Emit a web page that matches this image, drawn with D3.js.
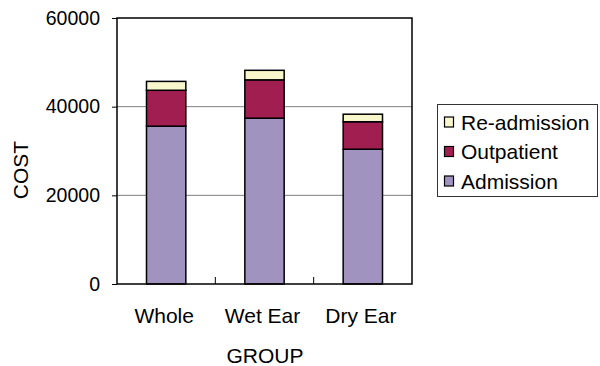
<!DOCTYPE html>
<html><head><meta charset="utf-8">
<script src="https://cdn.jsdelivr.net/npm/d3@7"></script>
<style>
html,body{margin:0;padding:0;background:#fff;}
text{font-family:"Liberation Sans",Arial,sans-serif;fill:#000;}
</style></head>
<body>
<svg id="chart" width="600" height="366"></svg>
<script>
const categories = ["Whole", "Wet Ear", "Dry Ear"];
const admission = [35600, 37400, 30400];
const outpatient = [8100, 8650, 6200];
const readmission = [2000, 2150, 1700];
const seriesNames = ["Admission", "Outpatient", "Re-admission"];
const seriesColors = ["#A093BF", "#A01E50", "#F7F7CB"];
const yTicks = [0, 20000, 40000, 60000];

const svg = d3.select("#chart");
const L = 117, R = 412, T = 18, B = 284;
const x = d3.scaleBand().domain(categories).range([L, R]).padding(0);
const y = d3.scaleLinear().domain([0, 60000]).range([B, T]);

// gridlines
svg.append("g").selectAll("line").data(yTicks.filter(d => d > 0 && d < 60000)).join("line")
  .attr("x1", L).attr("x2", R).attr("y1", d => y(d)).attr("y2", d => y(d))
  .attr("stroke", "#808080").attr("stroke-width", 1);

// stacked data
const table = categories.map((c, i) => ({cat: c, Admission: admission[i], Outpatient: outpatient[i], "Re-admission": readmission[i]}));
const stack = d3.stack().keys(seriesNames)(table);
const bw = x.bandwidth() * 0.4;
stack.forEach((s, si) => {
  svg.append("g").selectAll("rect").data(s).join("rect")
    .attr("x", d => x(d.data.cat) + x.bandwidth() / 2 - bw / 2)
    .attr("width", bw)
    .attr("y", d => y(d[1]))
    .attr("height", d => y(d[0]) - y(d[1]))
    .attr("fill", seriesColors[si])
    .attr("stroke", "#000").attr("stroke-width", 1.5);
});

// frame
svg.append("rect").attr("x", L).attr("y", T).attr("width", R - L).attr("height", B - T)
  .attr("fill", "none").attr("stroke", "#000").attr("stroke-width", 1.5);

// y axis
const yAxis = d3.axisLeft(y).tickValues(yTicks).tickSize(5).tickPadding(12).tickFormat(d3.format("d"));
const gy = svg.append("g").attr("transform", `translate(${L},0)`).call(yAxis);
gy.select(".domain").remove();
gy.selectAll(".tick line").attr("stroke", "#000");
gy.selectAll(".tick text").attr("font-size", 19.5).attr("font-family", "Liberation Sans, Arial, sans-serif").attr("fill", "#000");

// x axis internal ticks at category boundaries
svg.append("g").selectAll("line").data(categories.slice(1)).join("line")
  .attr("x1", d => x(d)).attr("x2", d => x(d)).attr("y1", B).attr("y2", B - 7)
  .attr("stroke", "#000").attr("stroke-width", 1);

// x labels
svg.append("g").selectAll("text").data(categories).join("text")
  .attr("x", d => x(d) + x.bandwidth() / 2 - 2).attr("y", 323)
  .attr("text-anchor", "middle").attr("font-size", 21).text(d => d);

// axis titles
svg.append("text").attr("x", 265).attr("y", 363).attr("text-anchor", "middle").attr("font-size", 21).text("GROUP");
svg.append("text").attr("transform", "translate(28,170) rotate(-90)").attr("text-anchor", "middle").attr("font-size", 21).text("COST");

// legend
const lg = svg.append("g");
lg.append("rect").attr("x", 437.5).attr("y", 104.5).attr("width", 160).attr("height", 92)
  .attr("fill", "#fff").attr("stroke", "#333").attr("stroke-width", 1);
const legendOrder = [2, 1, 0];
const ly = d3.scalePoint().domain(legendOrder).range([122, 181]);
legendOrder.forEach(i => {
  lg.append("rect").attr("x", 444.5).attr("y", ly(i) - 5).attr("width", 9).attr("height", 10)
    .attr("fill", seriesColors[i]).attr("stroke", "#000").attr("stroke-width", 1.2);
  lg.append("text").attr("x", 461).attr("y", ly(i) + 7.5).attr("font-size", 21).text(seriesNames[i]);
});
</script>
</body></html>
